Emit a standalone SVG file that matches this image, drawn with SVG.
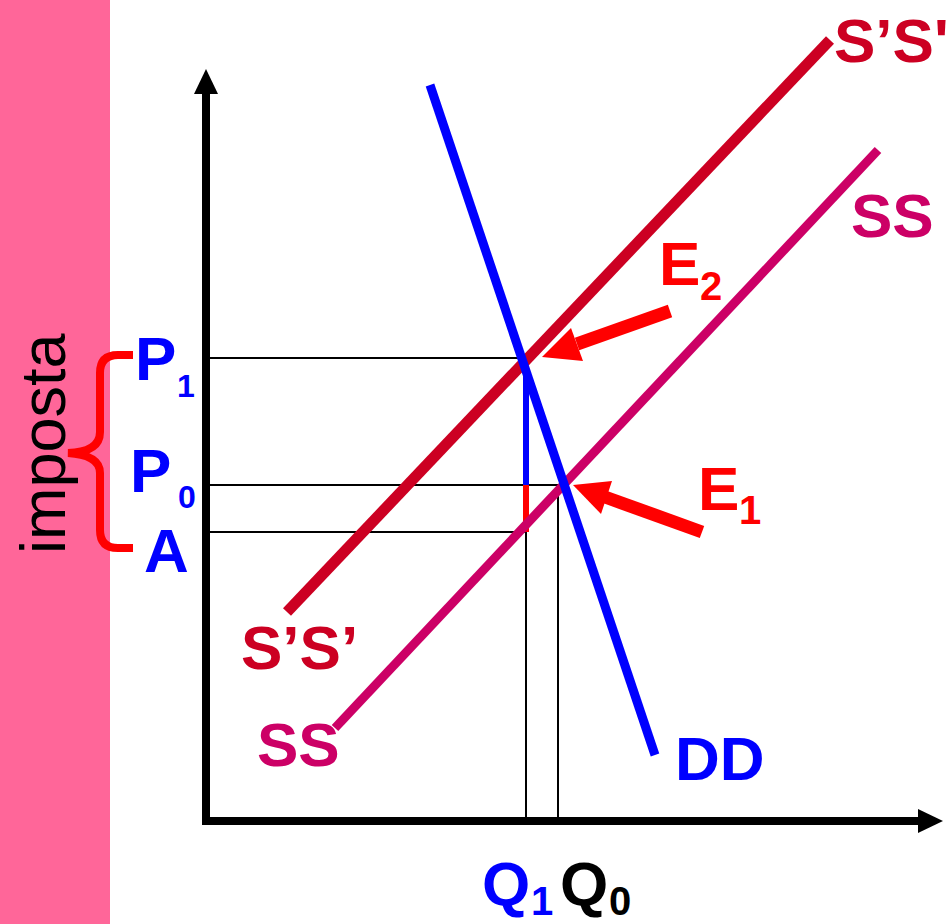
<svg xmlns="http://www.w3.org/2000/svg" width="947" height="924" viewBox="0 0 947 924">
<style>
text{font-family:"Liberation Sans",Arial,sans-serif;font-weight:bold;font-size:62px}
.sub{font-size:32px}
.sub2{font-size:40px}
.thin{stroke:#000;stroke-width:2;fill:none}
.blue{fill:#0000FF}.red{fill:#FF0000}.dred{fill:#CC0022}.mag{fill:#CC0066}
</style>
<rect x="0" y="0" width="947" height="924" fill="#FFFFFF"/>
<rect id="band" x="0" y="0" width="110" height="924" fill="#FF6699"/>
<text id="imposta" transform="translate(65,554) rotate(-90)" style="font-weight:normal;font-size:63px" fill="#000">imposta</text>
<g id="axes">
<line x1="206" y1="90" x2="206" y2="825" stroke="#000" stroke-width="8"/>
<polygon points="206,69 194,94 218,94" fill="#000"/>
<line x1="202" y1="821" x2="920" y2="821" stroke="#000" stroke-width="8"/>
<polygon points="943,821 918,809 918,833" fill="#000"/>
</g>
<g id="connectors">
<line class="thin" x1="206" y1="358" x2="525" y2="358"/>
<line class="thin" x1="206" y1="485" x2="558" y2="485"/>
<line class="thin" x1="206" y1="532" x2="526" y2="532"/>
<line class="thin" x1="526" y1="532" x2="526" y2="821"/>
<line class="thin" x1="558" y1="485" x2="558" y2="821"/>
<line x1="526" y1="372" x2="526" y2="485" stroke="#0000FF" stroke-width="6"/>
<line x1="526" y1="485" x2="526" y2="532" stroke="#FF0000" stroke-width="6"/>
<path d="M133,355 H118 Q100,355 100,373 V432 Q100,452 68,453 Q100,455 100,473 V530 Q100,548 118,548 H133" fill="none" stroke="#FF0000" stroke-width="8"/>
<line x1="670" y1="311" x2="577" y2="344" stroke="#FF0000" stroke-width="13"/>
<polygon points="542,357 583,361 571,328" fill="#FF0000"/>
<line x1="702" y1="532" x2="605" y2="497" stroke="#FF0000" stroke-width="13"/>
<polygon points="573,485 612,481 601,514" fill="#FF0000"/>
</g>
<g id="SpSp">
<line x1="287" y1="612" x2="830" y2="40" stroke="#CC0022" stroke-width="11"/>
<text class="dred" x="834" y="62">S’S'</text>
<text class="dred" x="241" y="669">S’S’</text>
</g>
<g id="SS">
<line x1="335" y1="728" x2="878" y2="150" stroke="#CC0066" stroke-width="9"/>
<text class="mag" x="851" y="237">SS</text>
<text class="mag" x="257" y="766">SS</text>
</g>
<g id="DD">
<line x1="430" y1="85" x2="655" y2="755" stroke="#0000FF" stroke-width="9"/>
<text class="blue" x="675" y="780">DD</text>
</g>
<g id="E2"><text class="red" x="659" y="285">E<tspan class="sub2" x="700" y="300">2</tspan></text></g>
<g id="E1"><text class="red" x="698" y="510">E<tspan class="sub2" x="739" y="524">1</tspan></text></g>
<g id="P1"><text class="blue" x="135" y="380">P<tspan class="sub" x="177" y="397">1</tspan></text></g>
<g id="P0"><text class="blue" x="130" y="492">P<tspan class="sub" x="178" y="508">0</tspan></text></g>
<g id="A"><text class="blue" x="144" y="572">A</text></g>
<g id="Q1"><text class="blue" x="482" y="905">Q<tspan class="sub2" x="531" y="915">1</tspan></text></g>
<g id="Q0"><text fill="#000" x="560" y="905">Q<tspan class="sub2" x="609" y="915">0</tspan></text></g>
</svg>
